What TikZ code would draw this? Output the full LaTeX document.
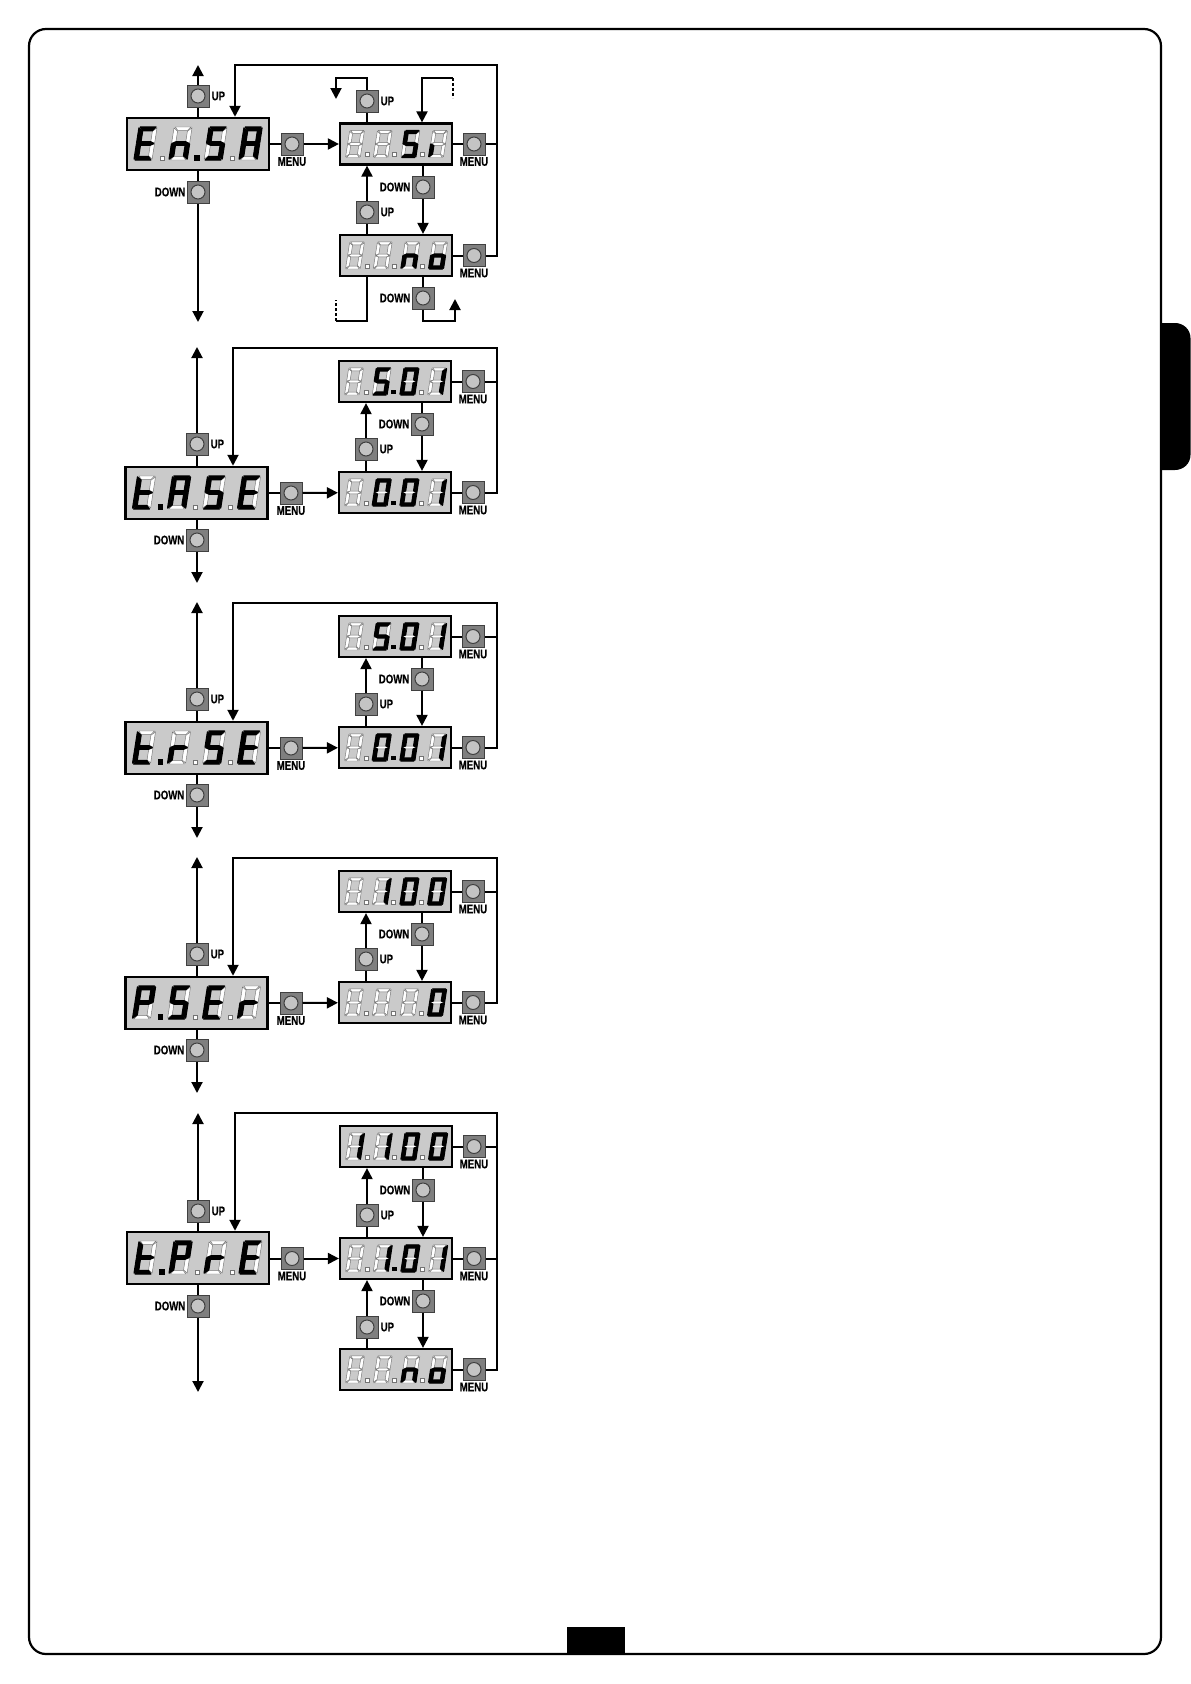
\documentclass[tikz,border=0pt]{standalone}
\usepackage{fontspec}
\usetikzlibrary{arrows.meta}
\newfontfamily\lblfont[FakeStretch=0.77,BoldFeatures={FakeBold=0.4}]{Liberation Sans}

\definecolor{panelgray}{HTML}{CACACA}
\definecolor{btngray}{HTML}{7F7F7F}
\definecolor{capgray}{HTML}{C4C4C4}

\tikzset{
  mainpanel/.style={rectangle, draw, line width=2.5pt, fill=panelgray, minimum width=142pt, minimum height=52pt, inner sep=0pt},
  subpanel/.style={rectangle, draw, line width=2.2pt, fill=panelgray, minimum width=112pt, minimum height=41pt, inner sep=0pt},
  btn/.style={rectangle, draw=black!75, line width=1pt, fill=btngray, minimum size=22pt, inner sep=0pt,
    path picture={\draw[fill=capgray, line width=1pt] (path picture bounding box.center) circle (7pt);}},
  lbl/.style={font=\lblfont\fontsize{12.5}{12.5}\selectfont\bfseries, inner sep=0pt},
  wire/.style={line width=2pt},
  arr/.style={line width=2pt, -{Triangle[width=11pt,length=11pt]}},
  segoff/.style={draw=black!55, fill=white, line width=.45pt},
  segon/.style={draw=black, fill=black, line width=1.3pt, line join=round},
}

% Segments of a digit
\def\sega{(1,33)--(14,33)--(11.4,29.4)--(3.6,29.4)--cycle}
\def\segb{(15,32)--(11.6,28.8)--(11.6,18.4)--(15,16.9)--cycle}
\def\segc{(15,16.1)--(11.6,14.6)--(11.6,4.2)--(15,1)--cycle}
\def\segd{(1,0)--(14,0)--(11.4,3.6)--(3.6,3.6)--cycle}
\def\sege{(0,16.1)--(3.4,14.6)--(3.4,4.2)--(0,1)--cycle}
\def\segf{(0,32)--(3.4,28.8)--(3.4,18.4)--(0,16.9)--cycle}
\def\segg{(0.7,16.5)--(3.6,18.2)--(11.4,18.2)--(14.3,16.5)--(11.4,14.8)--(3.6,14.8)--cycle}
\def\segx{}

% Lit segments of each sign
\def\ledB{x}
\def\ledE{a,d,e,f,g}
\def\ledn{c,e,g}
\def\ledo{c,d,e,g}
\def\ledS{a,c,d,f,g}
\def\ledi{e}
\def\ledA{a,b,c,e,f,g}
\def\ledt{d,e,f,g}
\def\ledr{e,g}
\def\ledP{a,b,e,f,g}
\def\ledI{b,c}
\def\ledO{a,b,c,d,e,f}

\def\ledsetmain{\def\ledox{-64}\def\ledoy{16}\def\ledpitch{35}\def\ledscale{1}\def\leddx{28}\def\leddy{2}\def\leddot{2.2}}
\def\ledsetsub{\def\ledox{-50.5}\def\ledoy{13.5}\def\ledpitch{27.7}\def\ledscale{.82}\def\leddx{21.5}\def\leddy{3}\def\leddot{2}}

\newcommand{\leddigit}[4]{%
  \begin{scope}[shift={({#1+\ledox+#3*\ledpitch},{#2+\ledoy})}, x=1pt, y=1pt, scale=\ledscale, xscale=1.2, xslant=.13]
    \foreach \s in {a,...,g} {\filldraw[segoff] \csname seg\s\endcsname;}
    \foreach \s in #4 {\filldraw[segon] \csname seg\s\endcsname;}
  \end{scope}}

% type, name, x, y, four signs, number of the black dot (0 for none)
\newcommand{\ledpanel}[9]{%
  \csname ledset#1\endcsname
  \node[#1panel] (#2) at (#3,#4) {};
  \leddigit{#3}{#4}{0}{#5}
  \leddigit{#3}{#4}{1}{#6}
  \leddigit{#3}{#4}{2}{#7}
  \leddigit{#3}{#4}{3}{#8}
  \foreach \i in {1,2,3} {
    \ifnum\i=#9\relax
      \fill[shift={({#3+\ledox+(\i-1)*\ledpitch+\leddx},{#4+\ledoy-\leddy})}] ({-\leddot-.4},{-\leddot-.4}) rectangle ({\leddot+.4},{\leddot+.4});
    \else
      \filldraw[segoff, shift={({#3+\ledox+(\i-1)*\ledpitch+\leddx},{#4+\ledoy-\leddy})}] ({-\leddot},{-\leddot}) rectangle (\leddot,\leddot);
    \fi
  }}

% Buttons and wires of a group with two sub panels, #2 is its vertical shift
\newcommand{\twolevel}[2]{%
  \begin{scope}[yshift=#2]
    \node[btn, label={[lbl, label distance=2pt]right:UP}] (#1Up) at (197,444) {};
    \node[btn, label={[lbl, label distance=1pt]left:DOWN}] (#1Down) at (197,540) {};
    \node[btn, label={[lbl, label distance=1.5pt]below:MENU}] (#1Menu) at (291,493) {};
    \node[btn, label={[lbl, label distance=1.5pt]below:MENU}] (#1HiMenu) at (473,381.5) {};
    \node[btn, label={[lbl, label distance=1.5pt]below:MENU}] (#1LoMenu) at (473,492.5) {};
    \node[btn, label={[lbl, label distance=1pt]left:DOWN}] (#1HiDown) at (422,424) {};
    \node[btn, label={[lbl, label distance=2pt]right:UP}] (#1LoUp) at (366,449) {};
    \coordinate (#1Top) at (197,347);
    \coordinate (#1End) at (197,583);
    \coordinate (#1Rail) at (496.5,348);
    \coordinate (#1Loop) at (233,348);
  \end{scope}
  \draw[wire] (#1Main.north -| #1Up) -- (#1Up);
  \draw[arr] (#1Up) -- (#1Top);
  \draw[wire] (#1Main.south -| #1Down) -- (#1Down);
  \draw[arr] (#1Down) -- (#1End);
  \draw[wire] (#1Main) -- (#1Menu);
  \draw[arr] (#1Menu) -- (#1Lo);
  \draw[wire] (#1Hi) -- (#1HiMenu);
  \draw[wire] (#1Lo) -- (#1LoMenu);
  \draw[wire] (#1HiMenu) -- (#1HiMenu -| #1Rail);
  \draw[arr] (#1LoMenu) -| (#1Rail) -- (#1Loop) -- (#1Loop |- #1Main.north);
  \draw[wire] (#1Hi.south -| #1HiDown) -- (#1HiDown);
  \draw[arr] (#1HiDown) -- (#1HiDown |- #1Lo.north);
  \draw[wire] (#1Lo.north -| #1LoUp) -- (#1LoUp);
  \draw[arr] (#1LoUp) -- (#1LoUp |- #1Hi.south);
}

\begin{document}
\begin{tikzpicture}[x=1pt, y=-1pt]
  \useasboundingbox (0,0) rectangle (1191,1684);

  % Page frame and tabs
  \fill (1161,323) -- (1175,323) to[out=0, in=90] (1190.5,338) -- (1190.5,455) to[out=-90, in=0] (1175,470) -- (1161,470) -- cycle;
  \fill (567,1627) rectangle (625,1654);
  \draw[line width=2.2pt, rounded corners=17pt] (29,29) rectangle (1161,1654);

  % First group
  \ledpanel{main}{ensaMain}{198}{144}{\ledE}{\ledn}{\ledS}{\ledA}{2}
  \ledpanel{sub}{ensaSi}{396}{144}{\ledB}{\ledB}{\ledS}{\ledi}{0}
  \ledpanel{sub}{ensaNo}{396}{255.5}{\ledB}{\ledB}{\ledn}{\ledo}{0}

  \node[btn, label={[lbl, label distance=2pt]right:UP}] (ensaUp) at (198,96) {};
  \node[btn, label={[lbl, label distance=1pt]left:DOWN}] (ensaDown) at (198,192) {};
  \node[btn, label={[lbl, label distance=1.5pt]below:MENU}] (ensaMenu) at (292,144) {};
  \node[btn, label={[lbl, label distance=1.5pt]below:MENU}] (siMenu) at (474,144) {};
  \node[btn, label={[lbl, label distance=1.5pt]below:MENU}] (noMenu) at (474,255.5) {};
  \node[btn, label={[lbl, label distance=2pt]right:UP}] (siUp) at (367,101) {};
  \node[btn, label={[lbl, label distance=1pt]left:DOWN}] (siDown) at (423,187) {};
  \node[btn, label={[lbl, label distance=2pt]right:UP}] (noUp) at (367,212) {};
  \node[btn, label={[lbl, label distance=1pt]left:DOWN}] (noDown) at (423,298) {};

  \coordinate (ensaTop) at (198,65);
  \coordinate (ensaEnd) at (198,322);
  \coordinate (ensaRail) at (497,65);
  \coordinate (ensaLoop) at (235,65);
  \coordinate (siBendA) at (336,78);
  \coordinate (siTipA) at (336,99);
  \coordinate (siBendB) at (422,78);
  \coordinate (siGap) at (453,78);
  \coordinate (siGapEnd) at (453,98);
  \coordinate (noBendA) at (336,321);
  \coordinate (noGapEnd) at (336,300);
  \coordinate (noBendB) at (455,321);
  \coordinate (noTipB) at (455,299);

  % Edges
  \draw[wire] (ensaMain.north -| ensaUp) -- (ensaUp);
  \draw[arr] (ensaUp) -- (ensaTop);
  \draw[wire] (ensaMain.south -| ensaDown) -- (ensaDown);
  \draw[arr] (ensaDown) -- (ensaEnd);
  \draw[wire] (ensaMain) -- (ensaMenu);
  \draw[arr] (ensaMenu) -- (ensaSi);
  \draw[wire] (ensaSi) -- (siMenu);
  \draw[wire] (ensaNo) -- (noMenu);
  \draw[wire] (siMenu) -- (siMenu -| ensaRail);
  \draw[arr] (noMenu) -| (ensaRail) -- (ensaLoop) -- (ensaLoop |- ensaMain.north);
  \draw[wire] (ensaSi.north -| siUp) -- (siUp);
  \draw[arr] (siUp) |- (siBendA) -- (siTipA);
  \draw[arr] (siGap) -- (siBendB) -- (siBendB |- ensaSi.north);
  \draw[wire, dash pattern=on 3pt off 2pt] (siGap) -- (siGapEnd);
  \draw[wire] (ensaSi.south -| siDown) -- (siDown);
  \draw[arr] (siDown) -- (siDown |- ensaNo.north);
  \draw[wire] (ensaNo.north -| noUp) -- (noUp);
  \draw[arr] (noUp) -- (noUp |- ensaSi.south);
  \draw[wire] (ensaNo.south -| noUp) |- (noBendA);
  \draw[wire, dash pattern=on 3pt off 2pt] (noBendA) -- (noGapEnd);
  \draw[wire] (ensaNo.south -| noDown) -- (noDown);
  \draw[arr] (noDown) |- (noBendB) -- (noTipB);

  % Second group
  \ledpanel{main}{taseMain}{196.5}{493}{\ledt}{\ledA}{\ledS}{\ledE}{1}
  \ledpanel{sub}{taseHi}{395}{381.5}{\ledB}{\ledS}{\ledO}{\ledI}{2}
  \ledpanel{sub}{taseLo}{395}{492.5}{\ledB}{\ledO}{\ledO}{\ledI}{2}
  \twolevel{tase}{0}

  % Third group
  \ledpanel{main}{trseMain}{196.5}{748}{\ledt}{\ledr}{\ledS}{\ledE}{1}
  \ledpanel{sub}{trseHi}{395}{636.5}{\ledB}{\ledS}{\ledO}{\ledI}{2}
  \ledpanel{sub}{trseLo}{395}{747.5}{\ledB}{\ledO}{\ledO}{\ledI}{2}
  \twolevel{trse}{-255}

  % Fourth group
  \ledpanel{main}{pserMain}{196.5}{1003}{\ledP}{\ledS}{\ledE}{\ledr}{1}
  \ledpanel{sub}{pserHi}{395}{891.5}{\ledB}{\ledI}{\ledO}{\ledO}{0}
  \ledpanel{sub}{pserLo}{395}{1002.5}{\ledB}{\ledB}{\ledB}{\ledO}{0}
  \twolevel{pser}{-510}

  % Fifth group
  \ledpanel{main}{tpreMain}{198}{1258}{\ledt}{\ledP}{\ledr}{\ledE}{1}
  \ledpanel{sub}{tpreHi}{396}{1146.5}{\ledI}{\ledI}{\ledO}{\ledO}{0}
  \ledpanel{sub}{tpreMid}{396}{1258.5}{\ledB}{\ledI}{\ledO}{\ledI}{2}
  \ledpanel{sub}{tpreLo}{396}{1369.5}{\ledB}{\ledB}{\ledn}{\ledo}{0}

  \node[btn, label={[lbl, label distance=2pt]right:UP}] (tpreUp) at (198,1211) {};
  \node[btn, label={[lbl, label distance=1pt]left:DOWN}] (tpreDown) at (198,1306) {};
  \node[btn, label={[lbl, label distance=1.5pt]below:MENU}] (tpreMenu) at (292,1258.5) {};
  \node[btn, label={[lbl, label distance=1.5pt]below:MENU}] (hiMenu) at (474,1146.5) {};
  \node[btn, label={[lbl, label distance=1.5pt]below:MENU}] (midMenu) at (474,1258.5) {};
  \node[btn, label={[lbl, label distance=1.5pt]below:MENU}] (loMenu) at (474,1369.5) {};
  \node[btn, label={[lbl, label distance=1pt]left:DOWN}] (hiDown) at (423,1190) {};
  \node[btn, label={[lbl, label distance=2pt]right:UP}] (midUp) at (367,1215) {};
  \node[btn, label={[lbl, label distance=1pt]left:DOWN}] (midDown) at (423,1301) {};
  \node[btn, label={[lbl, label distance=2pt]right:UP}] (loUp) at (367,1327) {};

  \coordinate (tpreTop) at (198,1113);
  \coordinate (tpreEnd) at (198,1392);
  \coordinate (tpreRail) at (497,1113);
  \coordinate (tpreLoop) at (235,1113);

  \draw[wire] (tpreMain.north -| tpreUp) -- (tpreUp);
  \draw[arr] (tpreUp) -- (tpreTop);
  \draw[wire] (tpreMain.south -| tpreDown) -- (tpreDown);
  \draw[arr] (tpreDown) -- (tpreEnd);
  \draw[wire] (tpreMain.east |- tpreMenu) -- (tpreMenu);
  \draw[arr] (tpreMenu) -- (tpreMid);
  \draw[wire] (tpreHi) -- (hiMenu);
  \draw[wire] (tpreMid) -- (midMenu);
  \draw[wire] (tpreLo) -- (loMenu);
  \draw[wire] (hiMenu) -- (hiMenu -| tpreRail);
  \draw[wire] (midMenu) -- (midMenu -| tpreRail);
  \draw[arr] (loMenu) -| (tpreRail) -- (tpreLoop) -- (tpreLoop |- tpreMain.north);
  \draw[wire] (tpreHi.south -| hiDown) -- (hiDown);
  \draw[arr] (hiDown) -- (hiDown |- tpreMid.north);
  \draw[wire] (tpreMid.north -| midUp) -- (midUp);
  \draw[arr] (midUp) -- (midUp |- tpreHi.south);
  \draw[wire] (tpreMid.south -| midDown) -- (midDown);
  \draw[arr] (midDown) -- (midDown |- tpreLo.north);
  \draw[wire] (tpreLo.north -| loUp) -- (loUp);
  \draw[arr] (loUp) -- (loUp |- tpreMid.south);
\end{tikzpicture}
\end{document}
